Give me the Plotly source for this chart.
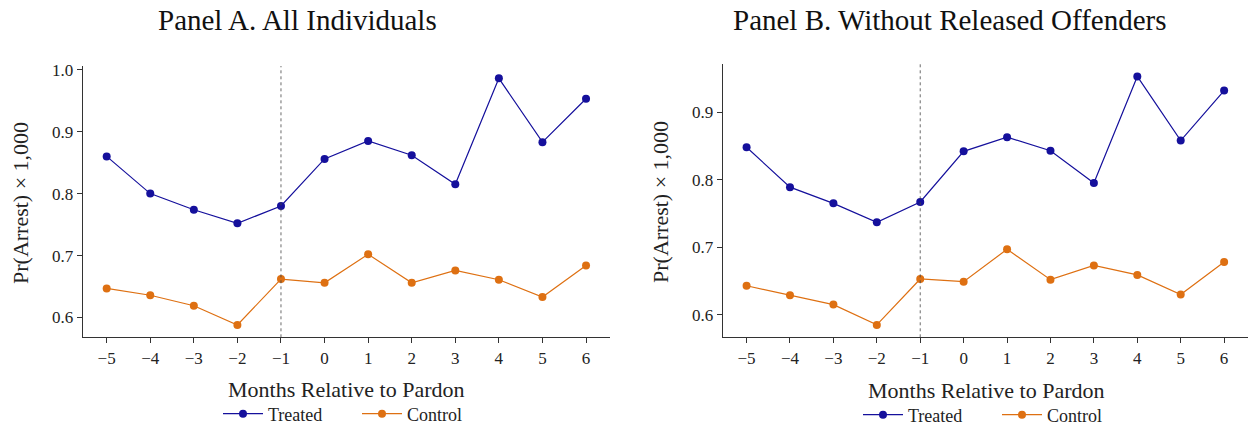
import plotly.graph_objects as go

# ---- data ----
months = [-5, -4, -3, -2, -1, 0, 1, 2, 3, 4, 5, 6]
event_month = -1

a_treated = [0.860, 0.800, 0.774, 0.752, 0.780, 0.856, 0.885, 0.862, 0.815, 0.986, 0.883, 0.953]
a_control = [0.647, 0.636, 0.619, 0.588, 0.662, 0.656, 0.702, 0.656, 0.676, 0.661, 0.633, 0.684]

b_treated = [0.848, 0.789, 0.765, 0.737, 0.767, 0.842, 0.863, 0.843, 0.795, 0.953, 0.858, 0.932]
b_control = [0.643, 0.629, 0.615, 0.585, 0.653, 0.649, 0.697, 0.652, 0.673, 0.659, 0.630, 0.678]

a_yticks = [0.6, 0.7, 0.8, 0.9, 1.0]
b_yticks = [0.6, 0.7, 0.8, 0.9]

titles = ["Panel A. All Individuals", "Panel B. Without Released Offenders"]
xlabel = "Months Relative to Pardon"
ylabel = "Pr(Arrest) × 1,000"
series_names = ["Treated", "Control"]

BLUE = "#15109c"
ORANGE = "#de7012"
FONT = "Liberation Serif"
AX = "#333333"

W, H = 1249, 429

fig = go.Figure()

def add_panel(idx, treated, control, legend):
    xa = "x" if idx == 0 else "x2"
    ya = "y" if idx == 0 else "y2"
    for name, vals, col in [(series_names[0], treated, BLUE), (series_names[1], control, ORANGE)]:
        fig.add_trace(go.Scatter(
            x=months, y=vals, mode="lines+markers", name=name,
            line=dict(color=col, width=1.2),
            marker=dict(color=col, size=8),
            xaxis=xa, yaxis=ya, legend=legend, showlegend=True,
        ))

add_panel(0, a_treated, a_control, "legend")
add_panel(1, b_treated, b_control, "legend2")

def yrange(vals):
    lo, hi = min(vals), max(vals)
    m = (hi - lo) * 0.05
    return [lo - m, hi + m]

xr = [months[0] - 0.05 * (months[-1] - months[0]), months[-1] + 0.05 * (months[-1] - months[0])]

axis_common = dict(
    showgrid=False, zeroline=False, showline=True, linecolor=AX, linewidth=1.2,
    ticks="outside", ticklen=5, tickwidth=1, tickcolor=AX,
    tickfont=dict(family=FONT, size=17, color="#222222"),
)

fig.update_layout(
    width=W, height=H,
    margin=dict(l=0, r=0, t=0, b=0, autoexpand=False),
    paper_bgcolor="white", plot_bgcolor="white",
    xaxis=dict(domain=[82.7 / W, 610 / W], range=xr, tickvals=months, anchor="y", **axis_common),
    yaxis=dict(domain=[1 - 337.3 / H, 1 - 66 / H], range=yrange(a_treated + a_control),
               tickvals=a_yticks, tickformat=".1f", anchor="x", **axis_common),
    xaxis2=dict(domain=[722.7 / W, 1248 / W], range=xr, tickvals=months, anchor="y2", **axis_common),
    yaxis2=dict(domain=[1 - 337.3 / H, 1 - 64 / H], range=yrange(b_treated + b_control),
                tickvals=b_yticks, tickformat=".1f", anchor="x2", **axis_common),
    legend=dict(orientation="h", x=218 / W, y=1 - 414 / H, xanchor="left", yanchor="middle",
                font=dict(family=FONT, size=18, color="#222222"), itemwidth=40,
                entrywidth=84, bgcolor="rgba(0,0,0,0)"),
    legend2=dict(orientation="h", x=858 / W, y=1 - 415 / H, xanchor="left", yanchor="middle",
                 font=dict(family=FONT, size=18, color="#222222"), itemwidth=40,
                 entrywidth=84, bgcolor="rgba(0,0,0,0)"),
)

for xa in ["x", "x2"]:
    fig.add_shape(type="line", xref=xa, yref=f"{'y' if xa == 'x' else 'y2'} domain",
                  x0=event_month, x1=event_month, y0=0, y1=1,
                  line=dict(color="#444444", width=0.8, dash="dot"))

ann = []
ann.append(dict(text=titles[0], x=297 / W, y=1 - 20 / H, xref="paper", yref="paper",
                showarrow=False, font=dict(family=FONT, size=29, color="#111111"),
                xanchor="center", yanchor="middle"))
ann.append(dict(text=titles[1], x=950 / W, y=1 - 20 / H, xref="paper", yref="paper",
                showarrow=False, font=dict(family=FONT, size=29, color="#111111"),
                xanchor="center", yanchor="middle"))
for cx, cy in [(346 / W, 1 - 389 / H), (986 / W, 1 - 390 / H)]:
    ann.append(dict(text=xlabel, x=cx, y=cy, xref="paper", yref="paper", showarrow=False,
                    font=dict(family=FONT, size=22, color="#222222"),
                    xanchor="center", yanchor="middle"))
for cx, cy in [(20 / W, 1 - 203 / H), (660 / W, 1 - 202 / H)]:
    ann.append(dict(text=ylabel, x=cx, y=cy, xref="paper", yref="paper", showarrow=False,
                    textangle=-90, font=dict(family=FONT, size=22, color="#222222"),
                    xanchor="center", yanchor="middle"))
fig.update_layout(annotations=ann)

fig.write_html("out.html")
